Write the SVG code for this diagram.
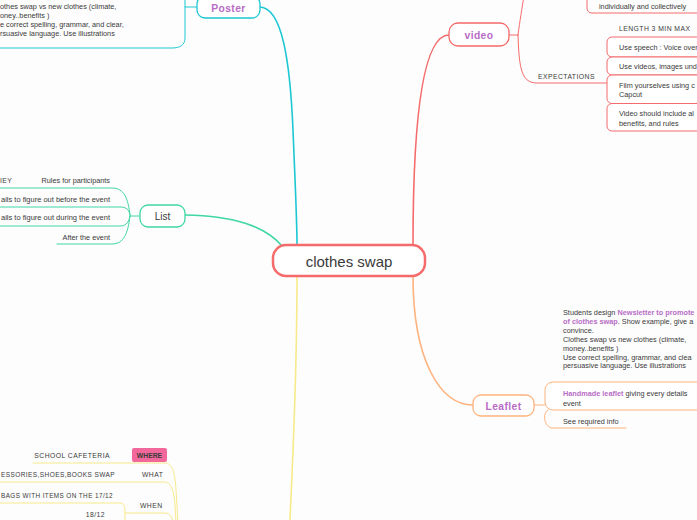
<svg xmlns="http://www.w3.org/2000/svg" width="697" height="520" viewBox="0 0 697 520">
<style>
text{font-family:"Liberation Sans",Arial,sans-serif;fill:#3a3a3a}
.t{font-size:7.3px}
.cap{font-size:6.8px;letter-spacing:0.45px}
.nl{font-size:10.3px;font-weight:bold;fill:#b86cc6;letter-spacing:0.4px;text-anchor:middle}
.hl{fill:#b86cc6;font-weight:bold}
.c{fill:none;stroke-linecap:round}
.cor{stroke:#f56a6a}
.cy{stroke:#1cc7d4}
.tl{stroke:#40d6a6}
.or{stroke:#ffb37e}
.ye{stroke:#f8e98a}
</style>
<rect width="697" height="520" fill="#fdfdfd"/>
<g id="connectors">
<path class="c cy" stroke-width="1.6" d="M260,7 C282,8 290,60 293,130 C295,180 297,220 297,245"/>
<path class="c cor" stroke-width="1.6" d="M413,245 C413,110 424,35 449,35"/>
<path class="c tl" stroke-width="1.6" d="M185,215 C235,216 265,226 283,247"/>
<path class="c or" stroke-width="1.6" d="M413,276 C413,360 440,405 473,405"/>
<path class="c ye" stroke-width="1.6" d="M297,276 C297,380 293,450 290,520"/>
<path class="c cy" stroke-width="1" d="M197,7 H185 M185,-2 V38 C185,45 180,48 172,48 H-2"/>
<path class="c cor" stroke-width="1" d="M509,35 H518 M518,35 C520,20 522,8 524,-4 M518,35 C519,70 522,83 537,83 H607"/>
<path class="c tl" stroke-width="1" d="M140,216 H130 M-2,188 H112 C124,188 128,198 130,215 M-2,207 H120 C127,207 129,210 130,215 M-2,226 H120 C127,226 129,221 130,216 M57,244 H112 C124,244 128,233 130,216"/>
<path class="c or" stroke-width="1" d="M534,405 H545 M548,410 C543,412 543,425 551,428 H626"/>
<path class="c ye" stroke-width="1" d="M33,463 H165 C172,463 175,472 176,490 L178,522 M-2,482 H164 C171,482 174,490 175,505 L176,522 M-2,503 H120 C124,503 125,507 125,512 V522 M125,513 H165 C170,513 172,517 173,522"/>
</g>
<g id="center">
<rect x="273" y="245" width="152" height="31" rx="13" fill="#fff" stroke="#f56a6a" stroke-width="2.5"/>
<text x="349" y="267" font-size="15" text-anchor="middle" fill="#333">clothes swap</text>
</g>
<g id="poster">
<rect x="197" y="-4" width="63" height="22" rx="8" fill="#fff" stroke="#1cc7d4" stroke-width="1.3"/>
<text class="nl" x="228.5" y="11.5">Poster</text>
</g>
<g id="poster-text">
<text class="t" x="0" y="9">othes swap vs new clothes (climate,</text>
<text class="t" x="0" y="18">oney..benefits )</text>
<text class="t" x="0" y="27">e correct spelling, grammar, and clear,</text>
<text class="t" x="0" y="36">rsuasive language. Use illustrations</text>
</g>
<g id="video">
<rect x="449" y="23" width="60" height="23" rx="9" fill="#fff" stroke="#f56a6a" stroke-width="1.3"/>
<text class="nl" x="479" y="39" font-size="11">video</text>
</g>
<g id="video-top">
<path class="c cor" stroke-width="1" d="M587,-4 V8 C587,11 589,13 592,13 H700"/>
<text class="t" x="599" y="9">individually and collectively</text>
</g>
<g id="expectations">
<text class="cap" x="538" y="78.5">EXPECTATIONS</text>
<text class="cap" x="619" y="31">LENGTH 3 MIN MAX</text>
<g fill="#fff" stroke="#f56a6a" stroke-width="1">
<rect x="607" y="37" width="150" height="20" rx="5"/>
<rect x="607" y="57" width="150" height="18" rx="5"/>
<rect x="607" y="75" width="150" height="28.5" rx="5"/>
<rect x="607" y="103.5" width="150" height="27.5" rx="5"/>
</g>
<text class="t" x="619" y="50">Use speech : Voice over</text>
<text class="t" x="619" y="69">Use videos, images und</text>
<text class="t" x="619" y="88">Film yourselves using c</text>
<text class="t" x="619" y="97">Capcut</text>
<text class="t" x="619" y="116">Video should include al</text>
<text class="t" x="619" y="125.5">benefits, and rules</text>
</g>
<g id="list">
<rect x="140" y="205" width="45" height="22" rx="8" fill="#fff" stroke="#40d6a6" stroke-width="1.3"/>
<text x="162.5" y="219.5" font-size="10" text-anchor="middle" fill="#333">List</text>
</g>
<g id="list-items">
<text class="cap" x="0" y="182.5">IEY</text>
<text class="t" x="110" y="182.5" text-anchor="end">Rules for participants</text>
<text class="t" x="1" y="201.5" textLength="109" lengthAdjust="spacingAndGlyphs">ails to figure out before the event</text>
<text class="t" x="1" y="220" textLength="109" lengthAdjust="spacingAndGlyphs">ails to figure out during the event</text>
<text class="t" x="110" y="239.5" text-anchor="end">After the event</text>
</g>
<g id="leaflet">
<rect x="473" y="395" width="61" height="21" rx="8" fill="#fff" stroke="#ffb37e" stroke-width="1.3"/>
<text class="nl" x="503.5" y="409.5">Leaflet</text>
</g>
<g id="leaflet-note">
<text class="t" x="563" y="315">Students design <tspan class="hl">Newsletter to promote</tspan></text>
<text class="t" x="563" y="324"><tspan class="hl">of clothes swap</tspan>. Show example, give a</text>
<text class="t" x="563" y="333">convince.</text>
<text class="t" x="563" y="342">Clothes swap vs new clothes (climate,</text>
<text class="t" x="563" y="350.5">money..benefits )</text>
<text class="t" x="563" y="359.5">Use correct spelling, grammar, and clea</text>
<text class="t" x="563" y="368">persuasive language. Use illustrations</text>
</g>
<g id="leaflet-items">
<rect x="545" y="382" width="200" height="28" rx="8" fill="#fff" stroke="#ffb37e" stroke-width="1"/>
<text class="t" x="563" y="396"><tspan class="hl">Handmade leaflet</tspan> giving every details</text>
<text class="t" x="563" y="405.5">event</text>
<text class="t" x="563" y="424">See required info</text>
</g>
<g id="where">
<text class="cap" x="110" y="457.5" text-anchor="end">SCHOOL CAFETERIA</text>
<rect x="132" y="448" width="35" height="14" rx="2" fill="#f2689b"/>
<text x="149.5" y="457.8" font-size="6.8" font-weight="bold" text-anchor="middle" fill="#222">WHERE</text>
</g>
<g id="what">
<text class="cap" x="1" y="477" textLength="114" lengthAdjust="spacingAndGlyphs">ESSORIES,SHOES,BOOKS SWAP</text>
<text class="cap" x="142" y="477">WHAT</text>
</g>
<g id="when">
<text class="cap" x="1" y="498" textLength="112" lengthAdjust="spacingAndGlyphs">BAGS WITH ITEMS ON THE 17/12</text>
<text class="cap" x="140" y="508">WHEN</text>
<text class="cap" x="105" y="517" text-anchor="end">18/12</text>
</g>
</svg>
